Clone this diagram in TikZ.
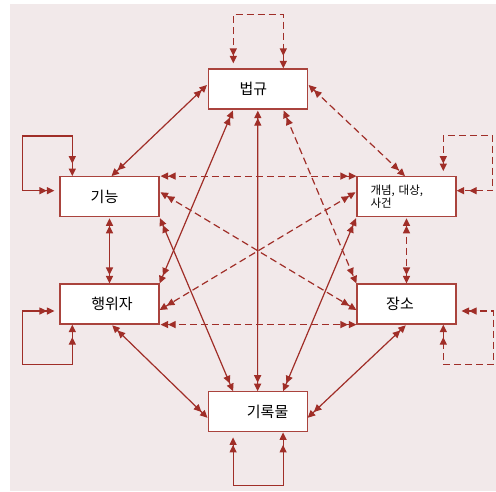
\documentclass[tikz,border=0pt]{standalone}
\usepackage{fontspec}
\newfontfamily\kr{Noto Sans CJK KR}
\usetikzlibrary{arrows.meta}

\definecolor{linered}{RGB}{160,46,40}
\definecolor{bgpink}{RGB}{242,233,234}

\tikzstyle{rect} = [rectangle, minimum width=99pt, minimum height=40pt, text centered, draw=linered!90, line width=1.2pt, fill=white, font=\kr\fontsize{15}{18}\selectfont]
\tikzstyle{arrow} = [linered, line width=1.2pt, {Triangle[length=7.5pt,width=7pt,sep=1pt]Triangle[length=7.5pt,width=7pt]}-{Triangle[length=7.5pt,width=7pt,sep=1pt]Triangle[length=7.5pt,width=7pt]}]
\tikzstyle{darrow} = [arrow, dash pattern=on 7pt off 4pt]
\tikzstyle{selfloop} = [linered, line width=1.2pt, {Triangle[length=7.5pt,width=7pt,sep=5pt]Triangle[length=7.5pt,width=7pt]}-{Triangle[length=7.5pt,width=7pt,sep=5pt]Triangle[length=7.5pt,width=7pt]}]
\tikzstyle{dselfloop} = [selfloop, dash pattern=on 7pt off 4pt]

\begin{document}
\begin{tikzpicture}[x=1pt, y=1pt, node distance=297pt]

\useasboundingbox (0,0) rectangle (496,-491);
\fill[bgpink] (10,-4) rectangle (496,-491);

\node (law) [rect] at (257.8,-89) {법규\hspace*{9pt}};

\node (func) [rect] at (109.5,-196.7) {기능\hspace*{10pt}};

\node (concept) [rect, right of=func, text width=72pt, align=left, font=\kr\fontsize{11.5}{12.7}\selectfont] {개념, 대상,\\사건};

\node (agent) [rect, below of=func, yshift=189.7pt] {\hspace*{5pt}행위자};

\node (place) [rect, below of=concept, yshift=189.7pt] {장소\hspace*{13pt}};

\node (record) [rect] at (257.6,-411.8) {\hspace*{20pt}기록물};

\draw[arrow] ([yshift=4.7pt]law.west) -- ([xshift=2pt]func.north);
\draw[darrow] ([yshift=4.7pt]law.east) -- ([xshift=-1.5pt]concept.north);
\draw[arrow] ([xshift=-24.5pt]law.south) -- (agent.north east);
\draw[arrow] (law.south) -- (record.north);
\draw[darrow] ([xshift=25.5pt]law.south) -- (place.north west);

\draw[darrow] (func.north east) -- (concept.north west);
\draw[darrow] ([yshift=5pt]func.east) -- ([yshift=-6pt]place.west);
\draw[arrow] (func.south east) -- ([xshift=-24.5pt]record.north);
\draw[arrow] (func.south) -- (agent.north);

\draw[darrow] ([yshift=5pt]concept.west) -- ([yshift=-6pt]agent.east);
\draw[arrow] (concept.south west) -- ([xshift=25.5pt]record.north);
\draw[darrow] (concept.south) -- (place.north);

\draw[darrow] (agent.south east) -- (place.south west);
\draw[arrow] ([xshift=2pt]agent.south) -- ([yshift=-6pt]record.west);
\draw[arrow] (place.south) -- ([yshift=-6pt]record.east);

\draw[dselfloop] ([xshift=-24.5pt]law.north) -- ++(0,54) -| ([xshift=25.5pt]law.north);
\draw[selfloop] ([xshift=-24.5pt]record.south) -- ++(0,-53) -| ([xshift=25.5pt]record.south);
\draw[selfloop] ([yshift=6pt]func.west) -| ++(-37.3,54.7) -| ([xshift=-37.2pt]func.north);
\draw[selfloop] ([yshift=-7pt]agent.west) -| ++(-37.3,-53.3) -| ([xshift=-37.2pt]agent.south);
\draw[dselfloop] ([xshift=36.8pt]concept.north) |- ++(49.4,40.7) |- ([yshift=6pt]concept.east);
\draw[dselfloop] ([yshift=-7pt]place.east) -| ++(36.7,-53.3) -| ([xshift=36.8pt]place.south);

\end{tikzpicture}
\end{document}
